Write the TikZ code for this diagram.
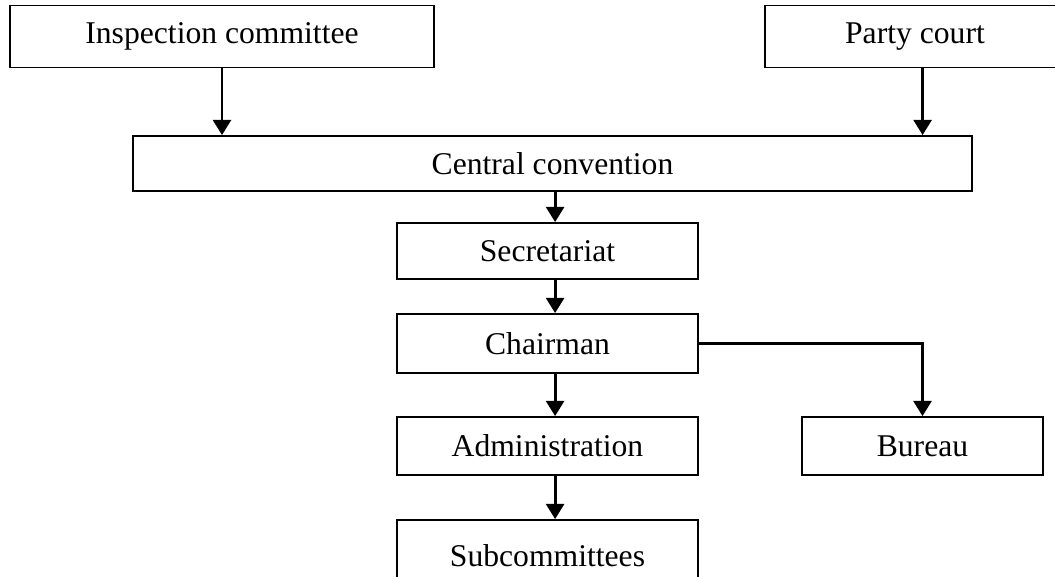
\documentclass[tikz,border=0pt]{standalone}
\usepackage{fontspec}
\setmainfont{Liberation Serif}
\usetikzlibrary{arrows.meta}

\tikzset{box/.style={draw,line width=1.3pt,inner sep=0pt,font=\fontsize{22.5}{27}\selectfont},
arr/.style={line width=2pt,-{Triangle[width=0.45cm,length=0.38cm]}},
off/.style={xshift=0.19cm}}

\begin{document}
\begin{tikzpicture}[x=0.025cm,y=-0.025cm]
\useasboundingbox (0,0) rectangle (1055,577);

\node [box,minimum width=10.6cm,minimum height=1.55cm](insp) at (222,36.5) {Inspection committee};
\node [box,minimum width=7.5cm,minimum height=1.55cm](party) at (915,36.5) {Party court};

\node [box,minimum width=20.975cm,minimum height=1.375cm](conv) at (552.5,163.5) {Central convention};

\node [box,minimum width=7.525cm,minimum height=1.4cm](secr) at (547.5,251) {Secretariat};
\node [box,minimum width=7.525cm,minimum height=1.475cm](chair) at (547.5,343.5) {Chairman};
\node [box,minimum width=7.525cm,minimum height=1.45cm](admin) at (547.5,446) {Administration};
\node [box,minimum width=6.025cm,minimum height=1.45cm](bureau) at (922.5,446) {Bureau};
\node [box,minimum width=7.525cm,minimum height=1.8cm](subc) at (547.5,556) {Subcommittees};

\draw [arr](insp.south)--(insp.south |- conv.north);
\draw [arr]([off]party.south)--([off]party.south |- conv.north);

\draw [arr]([off]secr.north |- conv.south)--([off]secr.north);
\draw [arr]([off]secr.south)--([off]chair.north);
\draw [arr]([off]chair.south)--([off]admin.north);
\draw [arr]([off]admin.south)--([off]subc.north);

\draw [arr](chair.east) -| (bureau.north);

\end{tikzpicture}
\end{document}
